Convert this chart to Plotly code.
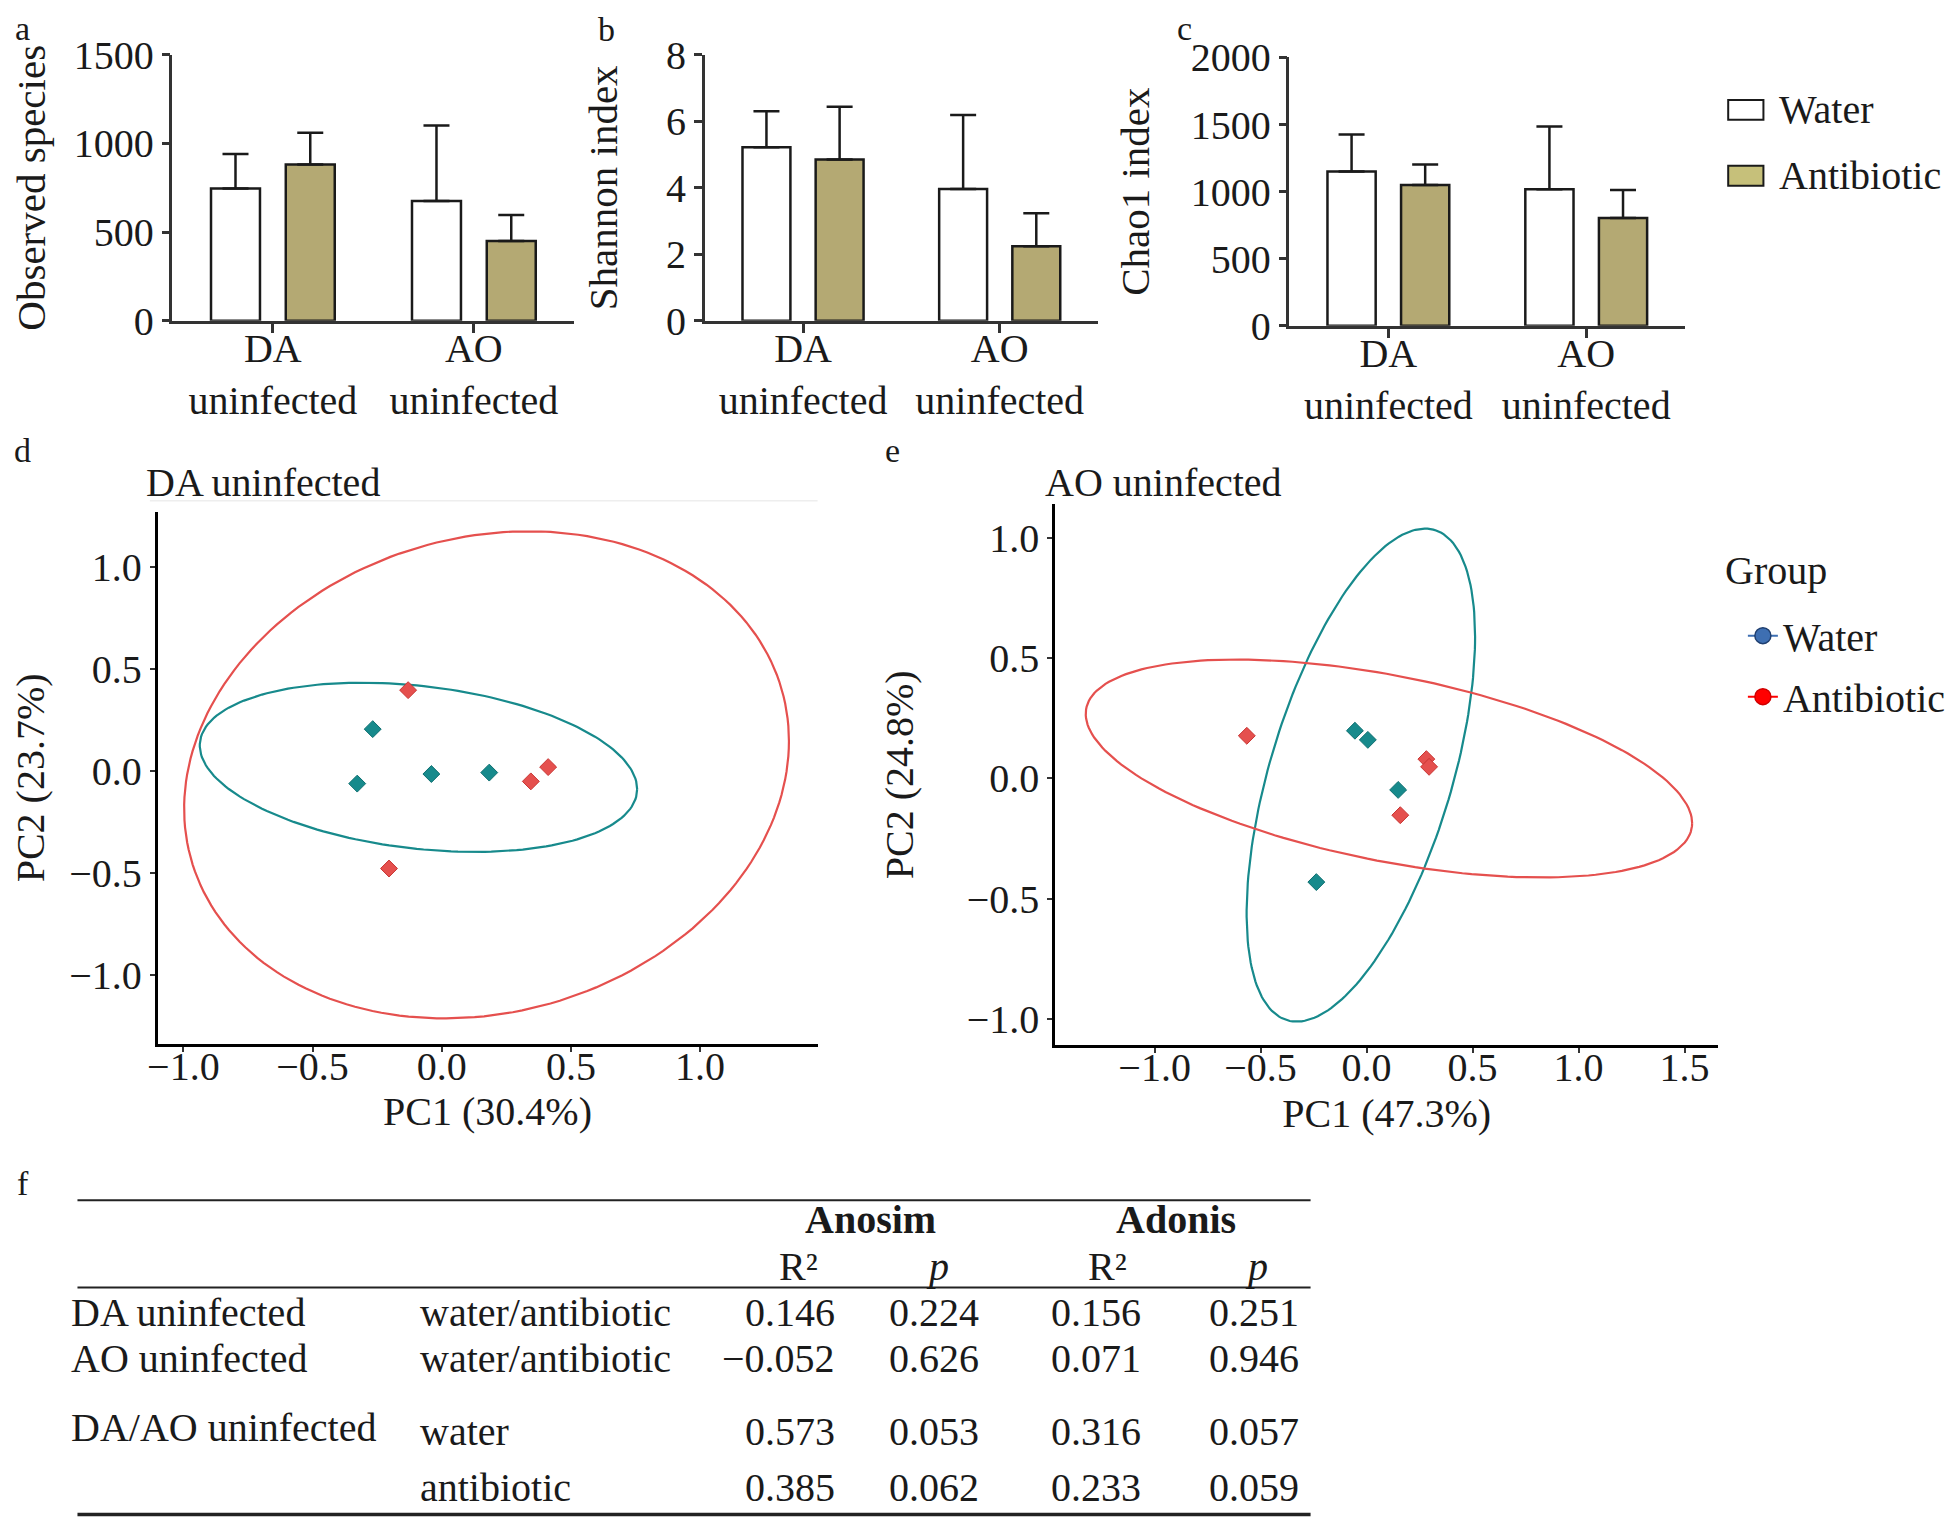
import numpy as np
import plotly.graph_objects as go

# ---- alpha diversity (a-c): mean and upper SD
groups = ["DA<br>uninfected", "AO<br>uninfected"]

obs_water = [746, 675]
obs_water_sd = [194, 426]
obs_anti = [881, 449]
obs_anti_sd = [179, 148]

shannon_water = [5.22, 3.96]
shannon_water_sd = [1.08, 2.23]
shannon_anti = [4.85, 2.24]
shannon_anti_sd = [1.59, 0.99]

chao_water = [1150, 1017]
chao_water_sd = [276, 469]
chao_anti = [1050, 804]
chao_anti_sd = [153, 208]

# ---- PCoA (d, e)
d_water_x = [-0.267, -0.327, -0.04, 0.184]
d_water_y = [0.204, -0.063, -0.016, -0.009]
d_anti_x = [-0.13, 0.345, 0.412, -0.204]
d_anti_y = [0.395, -0.052, 0.018, -0.479]

e_water_x = [-0.055, 0.006, 0.149, -0.237]
e_water_y = [0.198, 0.16, -0.048, -0.431]
e_anti_x = [-0.565, 0.282, 0.295, 0.159]
e_anti_y = [0.177, 0.08, 0.048, -0.153]

# ellipse: centre x, centre y, half width, half height, xy covariance term
d_water_ell = [-0.09, 0.017, 0.8465, 0.4145, -0.0906]
d_anti_ell = [0.1735, -0.02, 1.1705, 1.1935, 0.194]
e_water_ell = [-0.027, 0.0135, 0.539, 1.0245, 0.310]
e_anti_ell = [0.1055, 0.041, 1.4305, 0.453, -0.325]

# ---- table (f)
tab_group = ["DA uninfected", "AO uninfected", "DA/AO uninfected", ""]
tab_comp = ["water/antibiotic", "water/antibiotic", "water", "antibiotic"]
anosim_r2 = [0.146, -0.052, 0.573, 0.385]
anosim_p = [0.224, 0.626, 0.053, 0.062]
adonis_r2 = [0.156, 0.071, 0.316, 0.233]
adonis_p = [0.251, 0.946, 0.057, 0.059]

FONT = "Liberation Serif"
TEAL = "#178a8c"
RED = "#e5504e"
KHAKI = "#b4a973"
INK = "#1a1a1a"

# small global nudge of everything on the page
DX = -0.004
DY = 0.006


def xd(a, b):
    return [a + DX, b + DX]


def yd(a, b):
    return [a + DY, b + DY]


fig = go.Figure()


def add_bars(xa, ya, water, water_sd, anti, anti_sd):
    for vals, sd, fill, name in [(water, water_sd, "white", "Water"),
                                 (anti, anti_sd, KHAKI, "Antibiotic")]:
        fig.add_trace(go.Bar(
            x=groups, y=vals, name=name, showlegend=False,
            marker=dict(color=fill, line=dict(color=INK, width=2.5)),
            error_y=dict(type="data", symmetric=False, array=sd,
                         arrayminus=[0] * len(sd), color=INK,
                         thickness=2.5, width=13),
            xaxis=xa, yaxis=ya))


add_bars("x", "y", obs_water, obs_water_sd, obs_anti, obs_anti_sd)
add_bars("x2", "y2", shannon_water, shannon_water_sd, shannon_anti, shannon_anti_sd)
add_bars("x3", "y3", chao_water, chao_water_sd, chao_anti, chao_anti_sd)


def ellipse(p, n=200):
    cx, cy, w, h, c = p
    t = np.linspace(0, 2 * np.pi, n)
    k = c / w
    l22 = np.sqrt(h ** 2 - k ** 2)
    return cx + w * np.cos(t), cy + k * np.cos(t) + l22 * np.sin(t)


def add_pcoa(xa, ya, wx, wy, ax, ay, w_ell, a_ell):
    for ell, col in [(w_ell, TEAL), (a_ell, RED)]:
        ex, ey = ellipse(ell)
        fig.add_trace(go.Scatter(x=ex, y=ey, mode="lines", showlegend=False,
                                 line=dict(color=col, width=2.2),
                                 hoverinfo="skip", xaxis=xa, yaxis=ya))
    for px_, py_, col, line_col in [(wx, wy, TEAL, "#0d6f70"),
                                    (ax, ay, RED, "#c93533")]:
        fig.add_trace(go.Scatter(x=px_, y=py_, mode="markers", showlegend=False,
                                 marker=dict(symbol="diamond", size=13, color=col,
                                             line=dict(color=line_col, width=1)),
                                 xaxis=xa, yaxis=ya))


add_pcoa("x4", "y4", d_water_x, d_water_y, d_anti_x, d_anti_y, d_water_ell, d_anti_ell)
add_pcoa("x5", "y5", e_water_x, e_water_y, e_anti_x, e_anti_y, e_water_ell, e_anti_ell)

# legend-only entries for the Group legend
for name, col, edge in [("Water", "#3e6fb2", "#1f3f70"), ("Antibiotic", "#ff0000", "#d00000")]:
    fig.add_trace(go.Scatter(x=[None], y=[None], mode="lines+markers", name=name,
                             legendgroup=name,
                             line=dict(color=col, width=2),
                             marker=dict(symbol="circle", size=18, color=col,
                                         line=dict(color=edge, width=1.5)),
                             xaxis="x5", yaxis="y5"))

tickfont = dict(family=FONT, size=40, color=INK)
titlefont = dict(family=FONT, size=41, color=INK)


def bar_x(dom, anchor):
    return dict(domain=dom, anchor=anchor, type="category", range=[-0.5, 1.5],
                showline=True, linecolor="#333", linewidth=2.5, ticks="outside",
                ticklen=10, tickwidth=2.5, tickcolor="#333", tickfont=tickfont,
                ticklabelstandoff=-19,
                showgrid=False, zeroline=False, automargin=False)


def bar_y(dom, anchor, rng, tv, title, standoff):
    return dict(domain=dom, anchor=anchor, range=rng, tickvals=tv,
                showline=True, linecolor="#333", linewidth=2.5, ticks="outside",
                ticklen=8, tickwidth=2.5, tickcolor="#333", tickfont=tickfont,
                showgrid=False, zeroline=False, automargin=False,
                title=dict(text=title, font=titlefont, standoff=standoff))


def pc_axis(dom, anchor, rng, tv, title, standoff, label_shift=0):
    return dict(domain=dom, anchor=anchor, range=rng, tickvals=tv, tickformat=".1f",
                showline=True, linecolor="black", linewidth=2.5, ticks="outside",
                ticklen=5, tickwidth=1.5, tickcolor="#333", tickfont=tickfont,
                ticklabelstandoff=label_shift,
                showgrid=False, zeroline=False, automargin=False,
                title=dict(text=title, font=tickfont, standoff=standoff))


ya_dom = yd(0.7899, 0.9634)
yc_dom = yd(0.7866, 0.9617)

layout = dict(
    width=1957, height=1532, margin=dict(l=0, r=0, t=0, b=0),
    paper_bgcolor="white", plot_bgcolor="white",
    font=dict(family=FONT, color=INK),
    barmode="group", bargap=0.256, bargroupgap=0.345,
    xaxis=bar_x(xd(0.088, 0.2934), "y"),
    yaxis=bar_y(ya_dom, "x", [0, 1500], [0, 500, 1000, 1500], "Observed species", 24),
    xaxis2=bar_x(xd(0.360, 0.561), "y2"),
    yaxis2=bar_y(ya_dom, "x2", [0, 8], [0, 2, 4, 6, 8], "Shannon index", 36),
    xaxis3=bar_x(xd(0.6588, 0.861), "y3"),
    yaxis3=bar_y(yc_dom, "x3", [0, 2000], [0, 500, 1000, 1500, 2000], "Chao1 index", 29),
    xaxis4=pc_axis(xd(0.0804, 0.4177), "y4", [-1.10, 1.455], [-1, -0.5, 0, 0.5, 1],
                   "PC1 (30.4%)", 10, -20),
    yaxis4=pc_axis(yd(0.3176, 0.6653), "x4", [-1.34, 1.27], [-1, -0.5, 0, 0.5, 1],
                   "PC2 (23.7%)", 22),
    xaxis5=pc_axis(xd(0.539, 0.878), "y5", [-1.47, 1.66], [-1, -0.5, 0, 0.5, 1, 1.5],
                   "PC1 (47.3%)", 10, -20),
    yaxis5=pc_axis(yd(0.3168, 0.6702), "x5", [-1.11, 1.14], [-1, -0.5, 0, 0.5, 1],
                   "PC2 (24.8%)", 41),
    legend=dict(x=0.8905 + DX, y=0.6055 + DY, xanchor="left", yanchor="top",
                font=tickfont, tracegroupgap=6, traceorder="grouped",
                bgcolor="rgba(0,0,0,0)", itemclick=False),
)
fig.update_layout(**layout)

ann = []
shapes = []


def note(text, x, y, xanchor="left", font=tickfont, yanchor="middle", shift=True):
    ann.append(dict(text=text, x=x + (DX if shift else 0), y=y + (DY if shift else 0),
                    xref="paper", yref="paper", showarrow=False,
                    xanchor=xanchor, yanchor=yanchor, font=font))


# panel letters
letter_font = dict(family=FONT, size=34, color=INK)
for letter, x, y, sh in [("a", 0.0072, 0.9868, False), ("b", 0.306, 0.9858, False),
                         ("c", 0.601, 0.9868, False), ("d", 0.0115, 0.7052, True),
                         ("e", 0.456, 0.7052, True), ("f", 0.0115, 0.2264, True)]:
    note(letter, x, y, "center", letter_font, shift=sh)

# PCoA panel titles and the Group legend heading
note("DA uninfected", 0.0735, 0.684)
note("AO uninfected", 0.5327, 0.684)
note("Group", 0.8803, 0.627)
shapes.append(dict(type="line", xref="paper", yref="paper", x0=0.0765 + DX, x1=0.4177 + DX,
                   y0=0.6723 + DY, y1=0.6723 + DY, line=dict(color="#e6e6e6", width=1)))

# bar legend (top right)
for name, fill, y0, y1 in [("Water", "white", 0.921, 0.934), ("Antibiotic", "#c6c07a", 0.878, 0.891)]:
    shapes.append(dict(type="rect", xref="paper", yref="paper", x0=0.883 + DX, x1=0.901 + DX,
                       y0=y0 + DY, y1=y1 + DY, fillcolor=fill, line=dict(color=INK, width=2)))
    note(name, 0.9080, (y0 + y1) / 2)

# table f
for y, w in [(0.2158, 2), (0.1588, 2), (0.0106, 3.5)]:
    shapes.append(dict(type="line", xref="paper", yref="paper", x0=0.0395 + DX, x1=0.6696 + DX,
                       y0=y + DY, y1=y + DY, line=dict(color="#222", width=w)))
for txt, x in [("<b>Anosim</b>", 0.4445), ("<b>Adonis</b>", 0.601)]:
    note(txt, x, 0.2035, "center")
for txt, x in [("R\u00b2", 0.408), ("<i>p</i>", 0.479), ("R\u00b2", 0.5656), ("<i>p</i>", 0.642)]:
    note(txt, x, 0.1725, "center")

row_y = [0.1425, 0.1124, 0.0651, 0.0285]
group_y = [0.1425, 0.1124, 0.0676, 0.0285]
val_x = [0.4275, 0.501, 0.584, 0.6645]
for i in range(len(tab_comp)):
    if tab_group[i]:
        note(tab_group[i], 0.0352, group_y[i])
    note(tab_comp[i], 0.2135, row_y[i])
    for col, x in zip([anosim_r2, anosim_p, adonis_r2, adonis_p], val_x):
        s = f"{col[i]:.3f}".replace("-", "\u2212")
        note(s, x, row_y[i], "right")

fig.update_layout(annotations=ann, shapes=shapes)
fig.write_html("out.html")
